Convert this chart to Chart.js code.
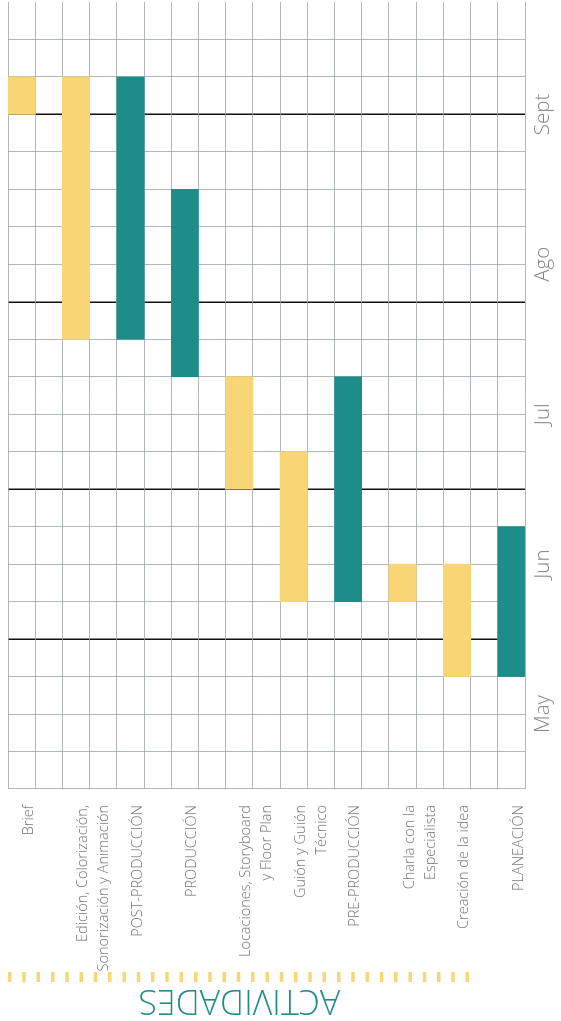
<!DOCTYPE html>
<html lang="es">
<head>
<meta charset="utf-8">
<title>Cronograma de actividades</title>
<script src="https://cdn.jsdelivr.net/npm/chart.js@4.4.1/dist/chart.umd.min.js"></script>
<style>
  html, body { margin: 0; padding: 0; background: #fff; overflow: hidden; }
  /* the chart is drawn landscape and the page is turned a quarter to the left */
  #wrap {
    position: absolute; left: 0; top: 0;
    width: 1021px; height: 561px;
    transform-origin: 0 0;
    transform: translate(0, 1021px) rotate(-90deg);
  }
</style>
</head>
<body>
<div id="wrap"><canvas id="gantt" width="1021" height="561"></canvas></div>
<script>
// Rows of the gantt, "" rows are the blank spacers between activities
const activities = [
  "Brief", "",
  ["Edición, Colorización,", "Sonorización y Animación"], "",
  "POST-PRODUCCIÓN", "",
  "PRODUCCIÓN", "",
  ["Locaciones, Storyboard", "y Floor Plan"], "",
  ["Guión y Guión", "Técnico"], "",
  "PRE-PRODUCCIÓN", "",
  ["Charla con la", "Especialista"], "",
  "Creación de la idea", "",
  "PLANEACIÓN"
];
const kind = ["tarea", "", "tarea", "", "fase", "", "fase", "", "tarea", "",
              "tarea", "", "fase", "", "tarea", "", "tarea", "", "fase"];

// start / end week of each row (week 0 = start of the calendar)
const weekStart = [18, null, 12, null, 12, null, 11, null, 8, null, 5, null, 5, null, 5, null, 3, null, 3];
const weekEnd   = [19, null, 19, null, 19, null, 16, null, 11, null, 9, null, 11, null, 6, null, 6, null, 7];

// time axis
const weekCount = 21;
const monthTicks = [2, 6, 10, 14, 18];
const monthNames = ["May", "Jun", "Jul", "Ago", "Sept"];
const monthLines = [4, 8, 13, 18];

const YELLOW = "#f8d575";
const TEAL = "#1e8c89";
const GRID = "rgba(150,160,165,0.75)";

function rangesFor(type) {
  return weekStart.map((s, i) => (kind[i] === type ? [s, weekEnd[i]] : null));
}

// dashed yellow rule + "ACTIVIDADES" heading on the far left
const actividadesTitle = {
  id: "actividadesTitle",
  afterDraw(chart) {
    const { ctx, chartArea } = chart;
    const y = chart.scales.y;
    const half = (y.getPixelForValue(1) - y.getPixelForValue(0)) / 2;
    const top = chartArea.top;
    const end = y.getPixelForValue(16) + half;
    ctx.save();
    ctx.strokeStyle = YELLOW;
    ctx.lineWidth = 10;
    ctx.setLineDash([3.5, 10.8]);
    ctx.beginPath();
    ctx.moveTo(44, top);
    ctx.lineTo(44, end);
    ctx.stroke();
    ctx.setLineDash([]);
    ctx.translate(21, (top + end) / 2);
    ctx.rotate(-Math.PI / 2);
    ctx.fillStyle = TEAL;
    ctx.font = '300 34px "Open Sans", sans-serif';
    ctx.textAlign = "center";
    ctx.textBaseline = "middle";
    ctx.fillText("ACTIVIDADES", 0, 0);
    ctx.restore();
  }
};

Chart.defaults.font.family = '"Open Sans", sans-serif';

new Chart(document.getElementById("gantt"), {
  type: "bar",
  data: {
    labels: activities,
    datasets: [
      { label: "Tareas", data: rangesFor("tarea"), backgroundColor: YELLOW },
      { label: "Fases", data: rangesFor("fase"), backgroundColor: TEAL }
    ]
  },
  options: {
    indexAxis: "y",
    responsive: false,
    animation: false,
    layout: { padding: { top: 8, right: 2, bottom: 0, left: 0 } },
    datasets: {
      bar: { grouped: false, barPercentage: 1, categoryPercentage: 1, borderWidth: 0, skipNull: true }
    },
    plugins: { legend: { display: false }, tooltip: { enabled: false } },
    scales: {
      x: {
        type: "linear",
        min: 0,
        max: weekCount,
        z: 1,
        border: { display: false },
        grid: {
          drawTicks: false,
          color: (c) => {
            const v = c.tick && c.tick.value;
            if (monthLines.includes(v)) return "#111";
            if (v === weekCount) return "rgba(0,0,0,0)";
            return GRID;
          },
          lineWidth: (c) => (c.tick && monthLines.includes(c.tick.value) ? 1.5 : 1)
        },
        ticks: {
          stepSize: 1,
          autoSkip: false,
          maxRotation: 0,
          padding: 6,
          color: "#858585",
          font: { size: 20.5, weight: "300" },
          callback: (v) => {
            const i = monthTicks.indexOf(v);
            return i >= 0 ? monthNames[i] : "";
          }
        },
        afterFit: (scale) => {
          scale.height = 36;
          scale.paddingLeft = 0;
          scale.paddingRight = 0;
        }
      },
      y: {
        type: "category",
        offset: true,
        z: 1,
        border: { display: false },
        grid: { offset: true, drawTicks: false, color: GRID },
        ticks: {
          autoSkip: false,
          padding: 16,
          labelOffset: 7,
          color: "#737373",
          font: { size: 14.5, weight: "300", lineHeight: 1.45 },
          // multi-line labels start at the row centre instead of being centred on it
          callback: function (value) {
            const l = this.getLabelForValue(value);
            return Array.isArray(l) ? [""].concat(l) : l;
          }
        },
        afterFit: (scale) => {
          scale.width = 232;
          scale.paddingTop = 0;
          scale.paddingBottom = 0;
        }
      }
    }
  },
  plugins: [actividadesTitle]
});
</script>
</body>
</html>
